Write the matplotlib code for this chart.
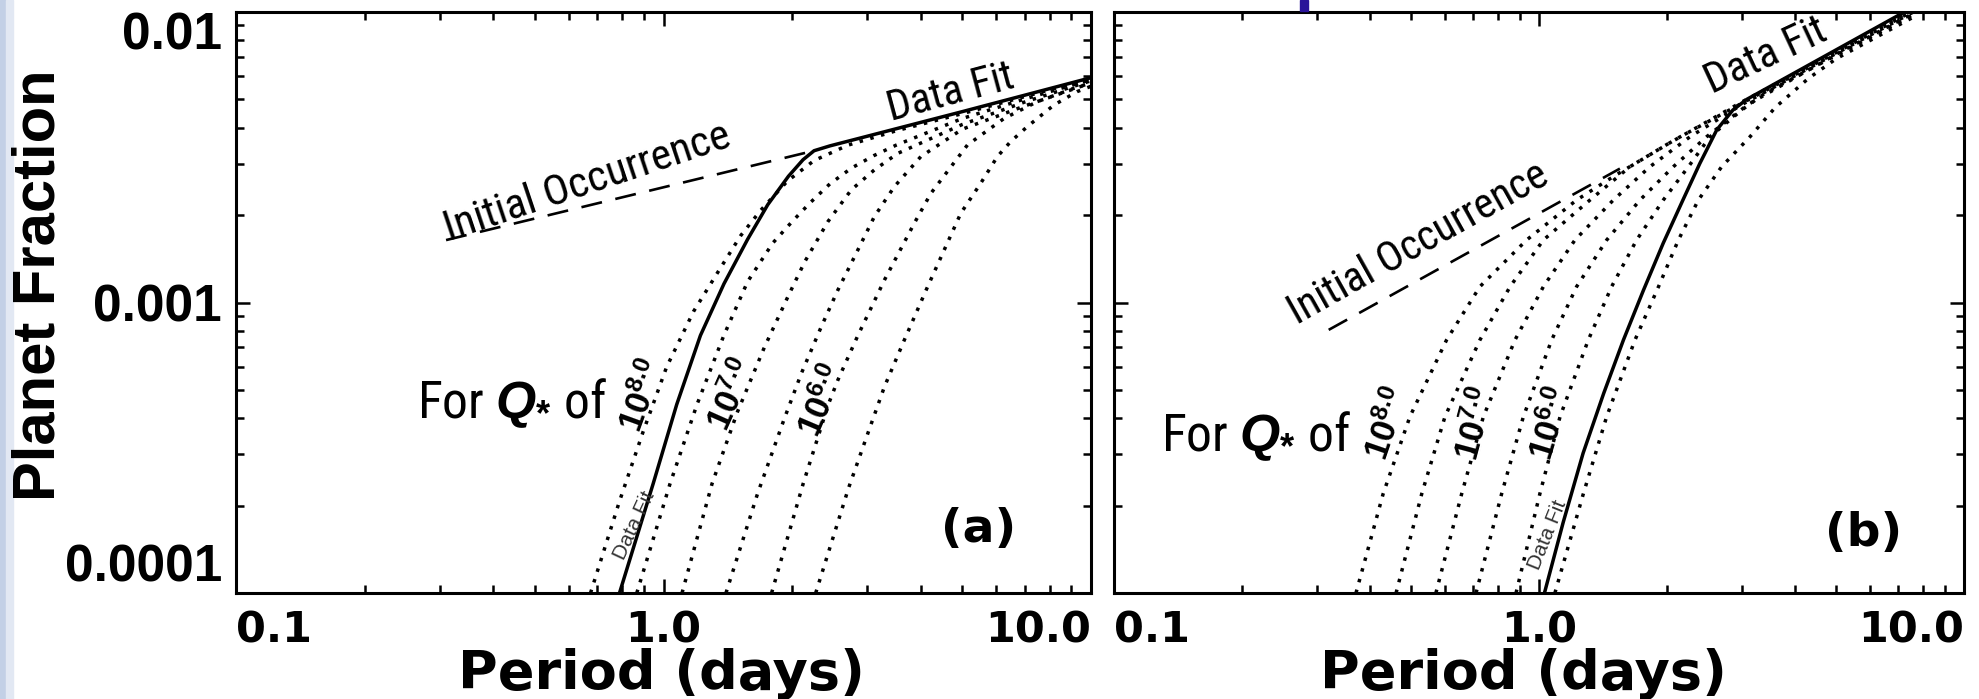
import matplotlib
matplotlib.use("Agg")
import matplotlib.pyplot as plt
from matplotlib import font_manager as fm
from matplotlib.font_manager import FontProperties
from matplotlib.ticker import LogLocator, NullFormatter, FixedLocator
from matplotlib.patches import Rectangle

# ---------------- data ----------------
# Panel (a)
a_fit_P = [0.789, 0.946, 1.074, 1.22, 1.385, 1.573, 1.753, 1.96, 2.12, 2.25, 2.45, 5.0, 10.0]
a_fit_f = [1.0e-4, 2.38e-4, 4.46e-4, 7.7e-4, 1.16e-3, 1.65e-3, 2.17e-3, 2.72e-3, 3.10e-3, 3.33e-3, 3.46e-3, 4.54e-3, 5.94e-3]
a_init_P = [0.31, 2.25]
a_init_f = [1.64e-3, 3.33e-3]

a_q80_P = [0.675, 0.789, 0.896, 1.017, 1.176, 1.335, 1.516, 1.69, 1.95, 2.25, 2.7, 3.5, 5.0, 10.0]
a_q80_f = [1.0e-4, 2.07e-4, 3.59e-4, 6.0e-4, 9.32e-4, 1.26e-3, 1.70e-3, 2.08e-3, 2.62e-3, 3.08e-3, 3.48e-3, 3.90e-3, 4.47e-3, 5.90e-3]
a_q75_P = [0.866, 1.036, 1.198, 1.384, 1.573, 1.80, 2.0, 2.2, 2.45, 2.75, 3.1, 3.5, 5.0, 7.0, 10.0]
a_q75_f = [1.0e-4, 2.38e-4, 4.46e-4, 7.7e-4, 1.18e-3, 1.6e-3, 1.9e-3, 2.2e-3, 2.56e-3, 2.9e-3, 3.2e-3, 3.48e-3, 4.3e-3, 5.02e-3, 5.85e-3]
a_q70_P = [1.105, 1.299, 1.489, 1.721, 1.956, 2.139, 2.425, 2.748, 3.113, 3.53, 5.0, 7.0, 10.0]
a_q70_f = [1.0e-4, 2.38e-4, 4.2e-4, 7.0e-4, 1.05e-3, 1.38e-3, 1.90e-3, 2.44e-3, 2.86e-3, 3.26e-3, 4.1e-3, 4.9e-3, 5.8e-3]
a_q65_P = [1.40, 1.66, 1.919, 2.101, 2.339, 2.558, 2.798, 3.113, 3.467, 4.0, 5.0, 7.0, 10.0]
a_q65_f = [1.0e-4, 2.2e-4, 4.0e-4, 5.70e-4, 8.25e-4, 1.104e-3, 1.438e-3, 1.975e-3, 2.505e-3, 3.18e-3, 3.95e-3, 4.75e-3, 5.7e-3]
a_q60_P = [1.79, 2.122, 2.43, 2.558, 2.849, 3.287, 3.86, 4.222, 5.14, 6.259, 7.48, 9.11, 10.0]
a_q60_f = [1.0e-4, 2.38e-4, 4.46e-4, 5.41e-4, 7.7e-4, 1.195e-3, 1.874e-3, 2.376e-3, 3.485e-3, 4.3e-3, 4.91e-3, 5.46e-3, 5.7e-3]
a_q55_P = [2.27, 2.71, 3.006, 3.287, 3.659, 4.147, 4.535, 4.959, 5.52, 6.04, 6.485, 7.094, 8.185, 9.277, 10.0]
a_q55_f = [1.0e-4, 2.3e-4, 3.545e-4, 5.13e-4, 7.43e-4, 1.133e-3, 1.516e-3, 2.028e-3, 2.572e-3, 3.18e-3, 3.578e-3, 4.03e-3, 4.78e-3, 5.32e-3, 5.55e-3]

# Panel (b)
b_fit_P = [1.03, 1.14, 1.27, 1.42, 1.58, 1.76, 1.96, 2.18, 2.39, 2.62, 2.86, 3.08, 7.6]
b_fit_f = [1.0e-4, 1.75e-4, 3.03e-4, 4.87e-4, 7.43e-4, 1.10e-3, 1.60e-3, 2.25e-3, 3.01e-3, 3.93e-3, 4.60e-3, 5.0e-3, 1.04e-2]
b_init_P = [0.32, 1.55]
b_init_f = [8.05e-4, 2.89e-3]

b_q80_P = [0.371, 0.430, 0.497, 0.606, 0.726, 0.935, 1.226, 1.5, 2.0, 3.0, 5.0, 7.6]
b_q80_f = [1.0e-4, 2.2e-4, 4.05e-4, 7.43e-4, 1.134e-3, 1.641e-3, 2.253e-3, 2.72e-3, 3.5e-3, 4.9e-3, 7.3e-3, 1.02e-2]
b_q75_P = [0.461, 0.530, 0.601, 0.726, 0.855, 1.024, 1.318, 1.637, 2.1, 3.0, 5.0, 7.6]
b_q75_f = [1.0e-4, 2.2e-4, 4.05e-4, 7.43e-4, 1.134e-3, 1.641e-3, 2.253e-3, 2.934e-3, 3.65e-3, 4.85e-3, 7.25e-3, 1.01e-2]
b_q70_P = [0.572, 0.658, 0.740, 0.878, 1.024, 1.215, 1.496, 1.824, 2.267, 3.0, 5.0, 7.6]
b_q70_f = [1.0e-4, 2.2e-4, 4.05e-4, 7.43e-4, 1.134e-3, 1.641e-3, 2.253e-3, 2.934e-3, 3.721e-3, 4.8e-3, 7.2e-3, 1.0e-2]
b_q65_P = [0.711, 0.817, 0.919, 1.071, 1.226, 1.443, 1.728, 2.071, 2.480, 3.1, 5.0, 7.6]
b_q65_f = [1.0e-4, 2.2e-4, 4.05e-4, 7.43e-4, 1.134e-3, 1.641e-3, 2.253e-3, 2.934e-3, 3.721e-3, 4.8e-3, 7.15e-3, 9.9e-3]
b_q60_P = [0.883, 1.005, 1.121, 1.306, 1.482, 1.697, 1.961, 2.247, 2.526, 3.0, 3.4, 5.0, 7.6]
b_q60_f = [1.0e-4, 2.2e-4, 4.05e-4, 7.43e-4, 1.134e-3, 1.641e-3, 2.253e-3, 2.934e-3, 3.721e-3, 4.6e-3, 5.25e-3, 7.1e-3, 9.8e-3]
b_q55_P = [1.09, 1.272, 1.443, 1.682, 1.911, 2.128, 2.371, 2.69, 3.137, 3.6, 4.3, 5.0, 7.6]
b_q55_f = [1.0e-4, 2.2e-4, 4.05e-4, 7.43e-4, 1.134e-3, 1.641e-3, 2.253e-3, 2.934e-3, 3.721e-3, 4.7e-3, 5.9e-3, 6.9e-3, 9.6e-3]

x_ticks = [0.1, 1.0, 10.0]
x_tick_labels = ["0.1", "1.0", "10.0"]
y_ticks = [1e-4, 1e-3, 1e-2]
y_tick_labels = ["0.0001", "0.001", "0.01"]

# ---------------- fonts ----------------
plt.rcParams["mathtext.fontset"] = "custom"
plt.rcParams["mathtext.it"] = "Liberation Sans:italic:bold"
plt.rcParams["mathtext.rm"] = "Liberation Sans:bold"
plt.rcParams["mathtext.bf"] = "Liberation Sans:bold"

_STR = {"ultra-condensed": 100, "extra-condensed": 200, "condensed": 300,
        "semi-condensed": 400, "normal": 500}

def _stretch(f):
    s = f.stretch
    if isinstance(s, (int, float)):
        return s
    return _STR.get(str(s), 500)

def _wnum(f):
    w = f.weight
    if isinstance(w, (int, float)):
        return w
    return {"normal": 400, "regular": 400, "book": 400, "medium": 500}.get(str(w), 700)

prefs = ["Liberation Sans Narrow", "Roboto Condensed", "Noto Sans", "Open Sans",
         "DejaVu Sans", "Noto Sans Display"]
cands = [f for f in fm.fontManager.ttflist
         if f.style == "normal" and 350 <= _wnum(f) <= 450
         and (_stretch(f) <= 400 or "Narrow" in f.name or "Condensed" in f.name)]
best = None
for p in prefs:
    for f in cands:
        if f.name == p:
            best = f
            break
    if best:
        break
if best is None and cands:
    best = cands[0]
if best is not None:
    narrow_prop = FontProperties(fname=best.fname)
else:
    narrow_prop = FontProperties(family="Liberation Sans")
narrow_prop.set_math_fontfamily("custom")

W, H = 1979, 699
fig = plt.figure(figsize=(W / 100, H / 100), dpi=100)
fig.patch.set_facecolor("white")
renderer = fig.canvas.get_renderer()

def fx(x):
    return x / W

def fy(y):
    return 1 - y / H

axa = fig.add_axes([fx(236), fy(593), 855 / W, 581 / H])
axb = fig.add_axes([fx(1114), fy(593), 850 / W, 581 / H])

DOT = (0, (1, 2.2))
DASH = (0, (8, 5.2))

def draw(ax, fitP, fitf, initP, initf, curves):
    for P, f in curves:
        ax.plot(P, f, color="black", lw=2.5, linestyle=DOT)
    ax.plot(initP, initf, color="black", lw=1.9, linestyle=DASH)
    ax.plot(fitP, fitf, color="black", lw=2.5, solid_capstyle="butt")

draw(axa, a_fit_P, a_fit_f, a_init_P, a_init_f,
     [(a_q80_P, a_q80_f), (a_q75_P, a_q75_f), (a_q70_P, a_q70_f),
      (a_q65_P, a_q65_f), (a_q60_P, a_q60_f), (a_q55_P, a_q55_f)])
draw(axb, b_fit_P, b_fit_f, b_init_P, b_init_f,
     [(b_q80_P, b_q80_f), (b_q75_P, b_q75_f), (b_q70_P, b_q70_f),
      (b_q65_P, b_q65_f), (b_q60_P, b_q60_f), (b_q55_P, b_q55_f)])

for ax in (axa, axb):
    ax.set_xscale("log")
    ax.set_yscale("log")
    ax.set_xlim(0.1, 10.0)
    ax.set_ylim(1e-4, 1e-2)
    for s in ax.spines.values():
        s.set_linewidth(2.2)
    ax.xaxis.set_major_locator(FixedLocator(x_ticks))
    ax.xaxis.set_minor_locator(LogLocator(base=10, subs=range(2, 10)))
    ax.xaxis.set_minor_formatter(NullFormatter())
    ax.yaxis.set_major_locator(FixedLocator(y_ticks))
    ax.yaxis.set_minor_locator(LogLocator(base=10, subs=range(2, 10)))
    ax.yaxis.set_minor_formatter(NullFormatter())
    ax.tick_params(which="both", direction="in", top=True, right=True, width=1.8)
    ax.tick_params(which="major", length=10)
    ax.tick_params(which="minor", length=5.5)
    ax.tick_params(axis="x", which="major", pad=12)
    ax.set_xticklabels(x_tick_labels, fontfamily="DejaVu Sans", fontweight="bold", fontsize=31)
    xl = ax.get_xticklabels()
    xl[0].set_ha("left")
    xl[-1].set_ha("right")

axa.set_yticklabels(y_tick_labels, fontfamily="Liberation Sans", fontweight="bold", fontsize=37)
axa.tick_params(axis="y", which="major", pad=10)
yl = axa.get_yticklabels()
yl[0].set_va("bottom")
yl[-1].set_va("top")
axb.tick_params(axis="y", labelleft=False)

# ---------------- texts ----------------
fig.text(fx(39), fy(285), "Planet Fraction", rotation=90, ha="center", va="center",
         fontfamily="Liberation Sans", fontweight="bold", fontsize=43)
for cx in (661, 1523):
    fig.text(fx(cx), fy(689), "Period (days)", ha="center", va="baseline",
             fontfamily="DejaVu Sans", fontweight="bold", fontsize=39)

def fit_size(s, target_px, start=30.0):
    t = fig.text(0, 0, s, fontproperties=narrow_prop, fontsize=start)
    w = t.get_window_extent(renderer=renderer).width
    t.remove()
    return start * target_px / max(w, 1.0)

def ntext(x, y, s, target_px, rot=0):
    size = fit_size(s, target_px)
    t = fig.text(fx(x), fy(y), s, rotation=rot, rotation_mode="anchor", ha="left",
                 va="baseline", fontproperties=narrow_prop)
    t.set_fontsize(size)
    return t

ntext(449, 241, "Initial Occurrence", 300, rot=18.5)
ntext(1297, 325, "Initial Occurrence", 292, rot=29.3)
ntext(891, 121, "Data Fit", 130, rot=15)
ntext(1712, 94, "Data Fit", 130, rot=25)
ntext(417, 418, r"For $\mathit{Q}_{*}$ of", 190)
ntext(1161, 451, r"For $\mathit{Q}_{*}$ of", 190)

def ftext(x, y, s, size, rot=0, ha="center", va="center", family="Liberation Sans", **kw):
    fig.text(fx(x), fy(y), s, rotation=rot, rotation_mode="anchor", ha=ha, va=va,
             fontfamily=family, fontsize=size, **kw)

exps = [(643, 396, 70, "8.0"), (733, 395, 66, "7.0"), (823, 401, 67, "6.0"),
        (1388, 424, 71, "8.0"), (1477, 424, 75, "7.0"), (1552, 424, 73, "6.0")]
for x, y, r, e in exps:
    ftext(x, y, r"$\mathit{10}^{\mathit{" + e + "}}$", 25, rot=r)

ftext(634, 525, "Data Fit", 15, rot=65, color="#333333")
ftext(1548, 535, "Data Fit", 15, rot=68, color="#333333")

ftext(979, 530, "(a)", 34, family="DejaVu Sans", fontweight="bold")
ftext(1864, 533, "(b)", 34, family="DejaVu Sans", fontweight="bold")

# slide decorations
fig.patches.append(Rectangle((0, 0), fx(6), 1, transform=fig.transFigure,
                             color="#c3d0e6", zorder=0))
fig.patches.append(Rectangle((fx(6), 0), fx(7), 1, transform=fig.transFigure,
                             color="#e2e8f3", zorder=0))
fig.patches.append(Rectangle((fx(1300), fy(11)), 8 / W, 11 / H, transform=fig.transFigure,
                             color="#2a1499", zorder=5))

fig.savefig("out.png", dpi=100, facecolor="white")
